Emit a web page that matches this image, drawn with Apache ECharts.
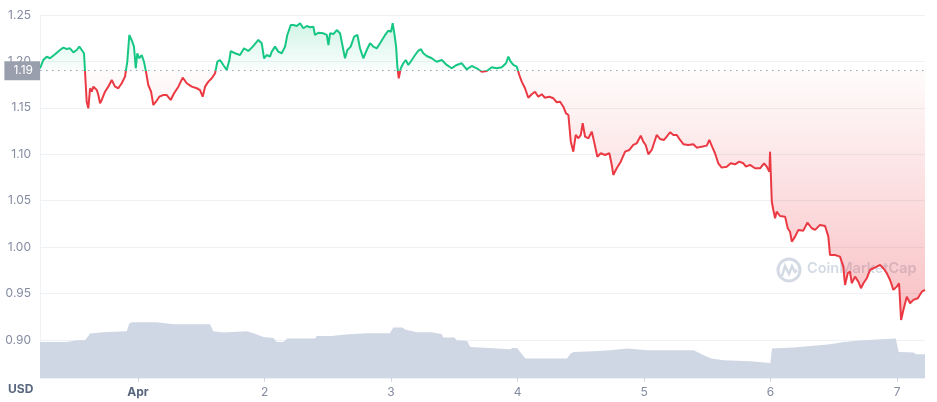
<!DOCTYPE html>
<html><head><meta charset="utf-8">
<script src="https://cdn.jsdelivr.net/npm/echarts@6/dist/echarts.min.js"></script>
<style>html,body{margin:0;padding:0;background:#fff}#c{width:937px;height:402px}</style>
</head><body><div id="c"></div>
<script>
// x = days since Apr 1 00:00, value = price in USD
const dayLabels = ['Apr', '2', '3', '4', '5', '6', '7'];
const baselinePrice = 1.19;
const pricePoints = [
[-0.775,1.1926],[-0.749,1.2015],[-0.722,1.2051],[-0.696,1.2034],[-0.656,1.2077],[-0.617,1.2123],[-0.591,1.2148],[-0.564,1.2134],[-0.538,1.2141],[-0.511,1.2098],[-0.485,1.2123],[-0.464,1.2159],[-0.445,1.2123],[-0.427,1.2088],[-0.419,1.1889],[-0.406,1.1566],[-0.393,1.1495],[-0.379,1.1711],[-0.366,1.1674],[-0.353,1.1728],[-0.326,1.1692],[-0.314,1.1638],[-0.300,1.1549],[-0.287,1.1585],[-0.261,1.1674],[-0.235,1.1728],[-0.208,1.1800],[-0.182,1.1728],[-0.156,1.1711],[-0.129,1.1765],[-0.103,1.1836],[-0.085,1.1997],[-0.069,1.2285],[-0.058,1.2285],[-0.045,1.2212],[-0.032,1.2159],[-0.018,1.1926],[-0.006,1.2088],[0.010,1.2034],[0.029,1.2069],[0.047,1.1997],[0.063,1.1889],[0.081,1.1746],[0.103,1.1674],[0.121,1.1531],[0.142,1.1566],[0.168,1.1620],[0.200,1.1638],[0.227,1.1638],[0.258,1.1585],[0.285,1.1657],[0.319,1.1728],[0.353,1.1825],[0.385,1.1765],[0.425,1.1728],[0.464,1.1711],[0.490,1.1692],[0.511,1.1620],[0.530,1.1728],[0.556,1.1782],[0.583,1.1818],[0.609,1.1872],[0.627,1.1997],[0.648,1.2015],[0.674,1.1962],[0.701,1.1908],[0.722,1.2015],[0.733,1.2112],[0.767,1.2088],[0.806,1.2069],[0.838,1.2141],[0.872,1.2112],[0.907,1.2159],[0.951,1.2231],[0.978,1.2195],[0.996,1.2034],[1.017,1.2069],[1.043,1.2051],[1.057,1.2105],[1.083,1.2159],[1.109,1.2105],[1.136,1.2088],[1.162,1.2159],[1.180,1.2285],[1.207,1.2392],[1.228,1.2392],[1.255,1.2382],[1.281,1.2411],[1.307,1.2357],[1.334,1.2382],[1.360,1.2368],[1.386,1.2374],[1.399,1.2285],[1.425,1.2309],[1.465,1.2303],[1.492,1.2285],[1.505,1.2177],[1.518,1.2303],[1.544,1.2295],[1.571,1.2338],[1.597,1.2303],[1.623,1.2123],[1.636,1.2034],[1.655,1.2123],[1.681,1.2159],[1.708,1.2266],[1.734,1.2285],[1.755,1.2141],[1.781,1.2034],[1.808,1.2123],[1.834,1.2195],[1.860,1.2159],[1.887,1.2141],[1.913,1.2195],[1.953,1.2285],[1.979,1.2331],[2.000,1.2320],[2.013,1.2411],[2.026,1.2303],[2.040,1.2159],[2.050,1.1943],[2.061,1.1818],[2.077,1.1926],[2.097,1.1980],[2.116,1.2015],[2.137,1.1962],[2.164,1.2015],[2.190,1.2069],[2.216,1.2116],[2.237,1.2131],[2.255,1.2088],[2.282,1.2058],[2.322,1.2034],[2.361,1.1997],[2.401,1.2015],[2.440,1.1962],[2.480,1.1926],[2.519,1.1962],[2.559,1.1980],[2.598,1.1915],[2.638,1.1951],[2.677,1.1926],[2.717,1.1889],[2.757,1.1897],[2.796,1.1937],[2.836,1.1926],[2.875,1.1937],[2.909,1.1980],[2.927,1.2051],[2.946,1.1997],[2.967,1.1962],[2.994,1.1943],[3.014,1.1854],[3.033,1.1782],[3.059,1.1711],
[3.085,1.1609],[3.112,1.1646],[3.138,1.1674],[3.164,1.1620],[3.191,1.1646],[3.217,1.1609],[3.251,1.1620],[3.283,1.1603],[3.310,1.1560],[3.336,1.1566],[3.362,1.1512],[3.383,1.1441],[3.402,1.1423],[3.421,1.1136],[3.441,1.1028],[3.460,1.1208],[3.481,1.1172],[3.500,1.1208],[3.515,1.1334],[3.534,1.1189],[3.560,1.1172],[3.587,1.1243],[3.605,1.1136],[3.631,1.0974],[3.658,1.1011],[3.692,1.0992],[3.726,1.1011],[3.745,1.0885],[3.757,1.0777],[3.784,1.0849],[3.816,1.0920],[3.850,1.1028],[3.884,1.1046],[3.915,1.1100],[3.942,1.1118],[3.974,1.1200],[3.994,1.1136],[4.013,1.1100],[4.034,1.1000],[4.061,1.1046],[4.087,1.1154],[4.100,1.1208],[4.126,1.1165],[4.158,1.1154],[4.179,1.1189],[4.206,1.1237],[4.232,1.1208],[4.259,1.1208],[4.285,1.1154],[4.311,1.1108],[4.350,1.1100],[4.390,1.1108],[4.417,1.1071],[4.456,1.1082],[4.496,1.1093],[4.516,1.1154],[4.538,1.1082],[4.561,1.1011],[4.587,1.0903],[4.614,1.0856],[4.654,1.0866],[4.685,1.0903],[4.719,1.0892],[4.753,1.0920],[4.785,1.0903],[4.806,1.0866],[4.838,1.0885],[4.877,1.0849],[4.917,1.0849],[4.949,1.0903],[4.970,1.0866],[4.991,1.0812],
[4.996,1.1028],[5.002,1.0795],[5.010,1.0489],[5.022,1.0400],[5.036,1.0311],[5.049,1.0382],[5.075,1.0335],[5.115,1.0328],[5.136,1.0203],[5.154,1.0166],[5.168,1.0059],[5.194,1.0113],[5.220,1.0185],[5.259,1.0177],[5.291,1.0263],[5.326,1.0203],[5.352,1.0185],[5.391,1.0239],[5.431,1.0228],[5.457,1.0113],[5.470,0.9915],[5.510,0.9915],[5.549,0.9897],[5.575,0.9789],[5.589,0.9592],[5.610,0.9718],[5.628,0.9736],[5.642,0.9611],[5.668,0.9682],[5.694,0.9628],[5.715,0.9557],[5.734,0.9611],[5.761,0.9665],[5.787,0.9754],[5.813,0.9772],[5.840,0.9789],[5.866,0.9808],[5.892,0.9772],[5.919,0.9718],[5.945,0.9646],[5.971,0.9539],[5.998,0.9574],[6.016,0.9611],[6.032,0.9215],[6.050,0.9323],[6.077,0.9466],[6.103,0.9395],[6.129,0.9431],[6.164,0.9449],[6.196,0.9520],[6.221,0.9539]
];
// volume (relative units)
const volumePoints = [
[-0.775,36],[-0.564,36],[-0.560,37],[-0.485,37.7],[-0.419,37.7],[-0.379,44.4],[-0.274,45.7],[-0.089,46.7],[-0.069,54.4],[-0.050,55.7],[0.148,55.7],[0.160,55],[0.279,53.7],[0.569,53.7],[0.595,46.7],[0.674,45.4],[0.859,46.7],[0.912,44.7],[0.991,41],[1.070,40],[1.096,36],[1.150,36],[1.180,39.4],[1.400,39.4],[1.413,42],[1.530,42],[1.544,43.4],[1.640,43.4],[1.650,45],[1.808,44.7],[1.990,44.7],[2.018,50.4],[2.090,50.4],[2.111,48.4],[2.203,45.7],[2.320,45.7],[2.334,44.4],[2.400,44],[2.413,40.4],[2.500,40.4],[2.519,37.7],[2.601,37],[2.627,31],[2.943,28.7],[2.960,30],[2.996,30],[3.062,19.4],[3.391,19.4],[3.420,24.4],[3.444,26],[3.602,26.7],[3.734,27.7],[3.866,29.4],[4.024,27.7],[4.393,27.7],[4.472,22.7],[4.530,19.4],[4.630,17.7],[4.840,16.7],[4.850,15],[4.998,15],[5.012,29.4],[5.183,30.4],[5.473,33.7],[5.578,36],[5.737,37.7],[5.990,39.4],[6.013,26],[6.132,25.4],[6.150,23.7],[6.221,23.7]
];

const GREEN = '#16c784', RED = '#ea3943', GRAY = '#858ca2';
// baseline 1.19 sits at offset (1.25-1.19)/(1.25-0.859) of the plot height
const cut = (1.25 - baselinePrice) / (1.25 - 0.859);
const chart = echarts.init(document.getElementById('c'), null, {renderer: 'canvas'});
chart.setOption({
  animation: false,
  textStyle: {fontFamily: 'Inter, "Noto Sans", sans-serif'},
  grid: {left: 40, right: 12, top: 15, bottom: 24, containLabel: false},
  xAxis: {
    type: 'value', min: -0.775, max: 6.221, minInterval: 1, maxInterval: 1,
    axisLine: {onZero: false, lineStyle: {color: '#eff2f5', width: 1}},
    axisTick: {show: true, length: 4, lineStyle: {color: '#cfd6e4'}},
    splitLine: {show: false},
    axisLabel: {
      showMinLabel: false, showMaxLabel: false, margin: 8, color: GRAY, fontSize: 12,
      formatter: v => { const i = Math.round(v); if (Math.abs(v - i) > 1e-6) return ''; return i === 0 ? '{b|' + dayLabels[0] + '}' : (dayLabels[i] || ''); },
      rich: {b: {fontWeight: 'bold', color: '#58667e', fontSize: 12}}
    }
  },
  yAxis: [{
    type: 'value', min: 0.859, max: 1.25, minInterval: 0.05, maxInterval: 0.05,
    axisLine: {show: true, onZero: false, lineStyle: {color: '#eff2f5'}},
    axisTick: {show: false},
    splitLine: {lineStyle: {color: '#eff2f5'}},
    axisLabel: {showMinLabel: false, margin: 9, color: GRAY, fontSize: 12, formatter: v => v.toFixed(2)}
  }, {
    type: 'value', min: 0, max: 363, show: false, splitLine: {show: false}
  }],
  graphic: [
    {type: 'text', left: 8, top: 383, z: 5, style: {text: 'USD', fill: '#58667e', font: 'bold 12px Inter, sans-serif'}},
    {type: 'group', z: 1, children: [
      {type: 'circle', shape: {cx: 789, cy: 270, r: 11}, style: {fill: 'none', stroke: 'rgba(160,172,196,0.45)', lineWidth: 3}},
      {type: 'polyline', shape: {points: [[782,276],[785,266],[789,274],[792,266],[795,272],[797,270]]}, style: {fill: 'none', stroke: 'rgba(160,172,196,0.45)', lineWidth: 2.5}},
      {type: 'text', x: 807, y: 261, style: {text: 'CoinMarketCap', fill: 'rgba(160,172,196,0.45)', font: '600 14.5px Inter, sans-serif'}}
    ]}
  ],
  series: [{
    type: 'line', name: 'Volume', yAxisIndex: 1, data: volumePoints, symbol: 'none', silent: true, z: 1,
    lineStyle: {width: 0}, areaStyle: {color: '#cfd6e4', opacity: 1, origin: 'start'}
  }, {
    type: 'line', name: 'Price', yAxisIndex: 0, data: pricePoints, symbol: 'none', z: 3,
    lineStyle: {
      width: 2,
      color: new echarts.graphic.LinearGradient(0, 15, 0, 378, [
        {offset: 0, color: GREEN}, {offset: cut, color: GREEN},
        {offset: cut + 0.0001, color: RED}, {offset: 1, color: RED}
      ], true)
    },
    areaStyle: {
      origin: baselinePrice, opacity: 1,
      color: new echarts.graphic.LinearGradient(0, 15, 0, 378, [
        {offset: 0, color: 'rgba(22,199,132,0.22)'},
        {offset: cut, color: 'rgba(22,199,132,0.02)'},
        {offset: cut + 0.0001, color: 'rgba(234,57,67,0.02)'},
        {offset: 0.85, color: 'rgba(234,57,67,0.32)'},
        {offset: 1, color: 'rgba(234,57,67,0.38)'}
      ], true)
    },
    markLine: {
      silent: true, symbol: 'none', animation: false,
      lineStyle: {color: '#9a9fad', type: [1.5, 4.5], width: 1.2},
      label: {position: 'start', distance: 0, formatter: '1.19', color: '#fff', fontSize: 12,
        backgroundColor: '#9a9fad', padding: [4, 7, 3, 9]},
      data: [{yAxis: baselinePrice}]
    }
  }]
});
</script></body></html>
